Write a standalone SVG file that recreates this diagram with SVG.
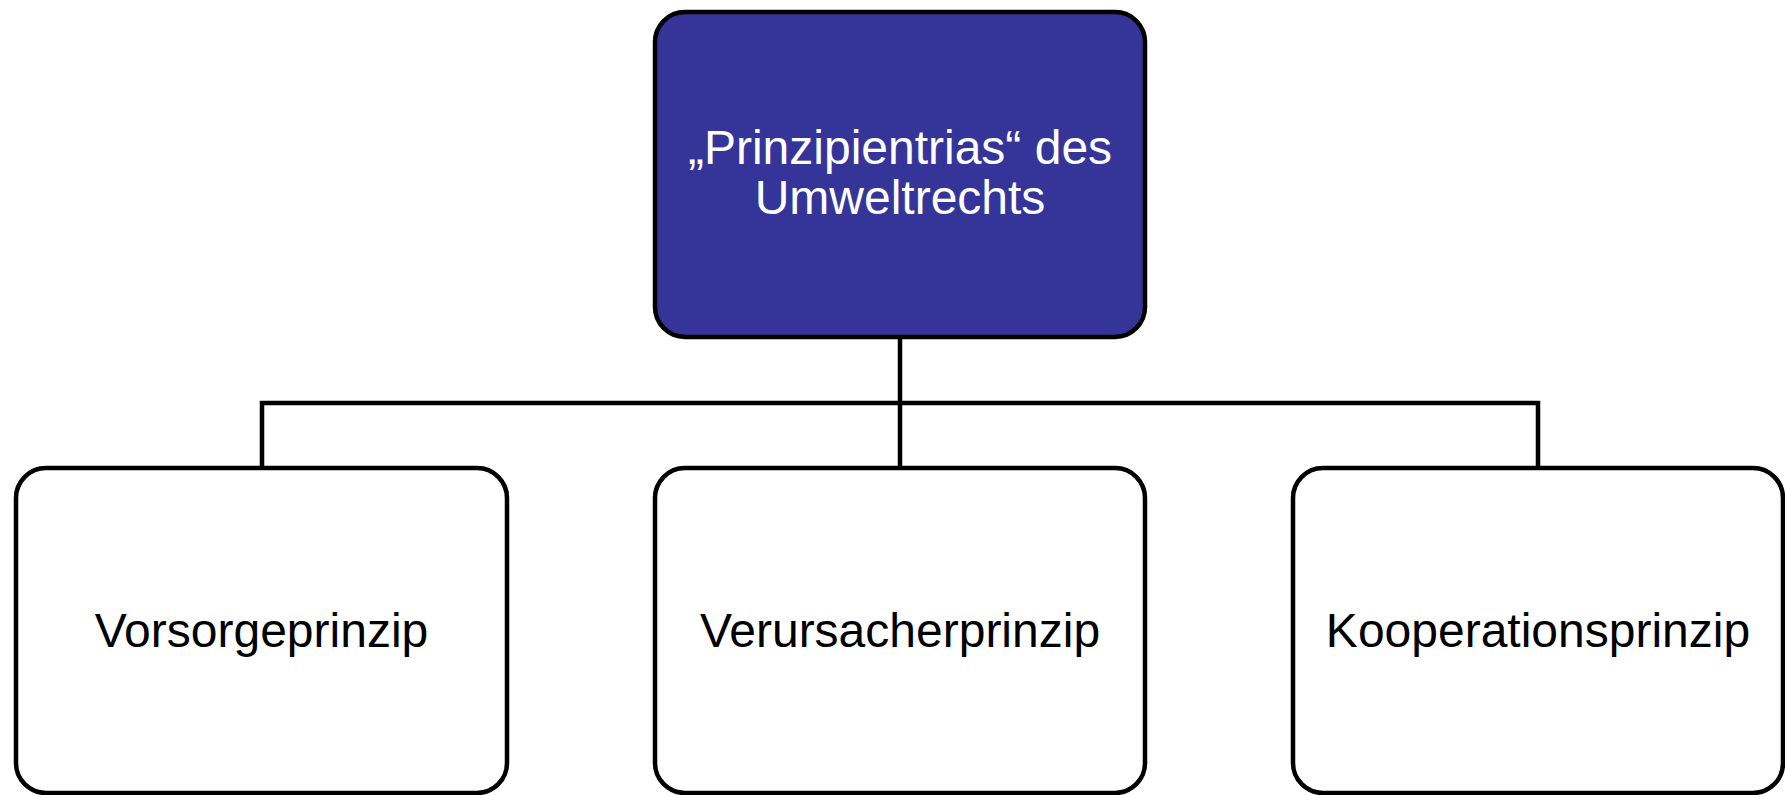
<svg xmlns="http://www.w3.org/2000/svg" width="1785" height="795" viewBox="0 0 1785 795">
<style>
.box{stroke:#000;stroke-width:4.5}
.child{fill:#fff}
.root{fill:#353599}
.lbl{font-family:"Liberation Sans",Arial,sans-serif;font-size:48px;text-anchor:middle}
.conn{fill:none;stroke:#000;stroke-width:4.5;stroke-linejoin:miter}
</style>
<rect width="1785" height="795" fill="#fff"/>
<g id="connectors">
<path class="conn" d="M900 337 V403"/>
<path class="conn" d="M262 468 V403 H1538 V468"/>
<path class="conn" d="M900 403 V468"/>
</g>
<g id="root">
<rect class="box root" x="655" y="12" width="490" height="325" rx="30" ry="30"/>
<text class="lbl" fill="#fff" x="900" y="164">„Prinzipientrias“ des</text>
<text class="lbl" fill="#fff" x="900" y="214">Umweltrechts</text>
</g>
<g id="vorsorge">
<rect class="box child" x="16" y="468" width="491" height="325" rx="30" ry="30"/>
<text class="lbl" x="261.5" y="647">Vorsorgeprinzip</text>
</g>
<g id="verursacher">
<rect class="box child" x="655" y="468" width="490" height="325" rx="30" ry="30"/>
<text class="lbl" x="900" y="647">Verursacherprinzip</text>
</g>
<g id="kooperation">
<rect class="box child" x="1293" y="468" width="490" height="325" rx="30" ry="30"/>
<text class="lbl" x="1538" y="647">Kooperationsprinzip</text>
</g>
</svg>
